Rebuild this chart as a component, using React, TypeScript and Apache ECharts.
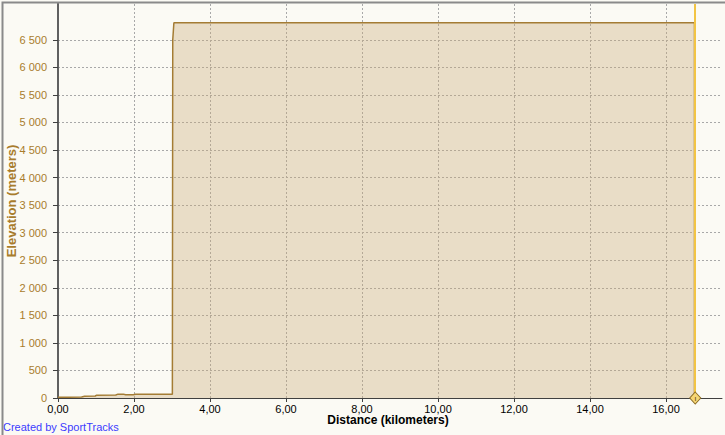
import React, { useEffect, useRef } from "react";
import * as echarts from "echarts";

const distanceKm = [0, 0.3, 0.62, 0.7, 0.98, 1.02, 1.52, 1.58, 1.72, 1.78, 1.98, 2.04, 2.6, 2.96, 3.01, 3.02, 3.05, 16.75, 16.75];
const elevationM = [15, 15, 18, 32, 36, 52, 54, 70, 70, 58, 60, 66, 68, 68, 70, 6500, 6810, 6810, 0];
const markerKm = 16.77;
const xTicks = [0, 2, 4, 6, 8, 10, 12, 14, 16];
const yTicks = [0, 500, 1000, 1500, 2000, 2500, 3000, 3500, 4000, 4500, 5000, 5500, 6000, 6500];
const xMin = -0.105;
const xMax = 17.474;
const yMax = 7150;

const FONT = "Liberation Sans, Arial, sans-serif";

export default function App() {
  const ref = useRef<HTMLDivElement>(null);
  useEffect(() => {
    if (!ref.current) return;
    const chart = echarts.init(ref.current, null, { renderer: "svg" });
    const data = distanceKm.map((d, i) => [d, elevationM[i]]);
    chart.setOption({
      animation: false,
      backgroundColor: "#fbfaf4",
      grid: { left: 54, right: 3, top: 4, bottom: 37, containLabel: false, outerBoundsMode: "none" },
      xAxis: {
        type: "value",
        min: xMin,
        max: xMax,
        name: "Distance (kilometers)",
        nameLocation: "middle",
        nameGap: 16,
        nameMoveOverlap: false,
        nameTextStyle: { color: "#000", fontWeight: "bold", fontSize: 12, fontFamily: FONT },
        axisLine: { show: true, onZero: false, lineStyle: { color: "#404040", width: 1 } },
        axisTick: { show: true, length: 4, customValues: xTicks, lineStyle: { color: "#404040" } },
        axisLabel: {
          show: true,
          color: "#000",
          fontSize: 11,
          fontFamily: FONT,
          margin: 5,
          customValues: xTicks,
          formatter: (v: number) => v.toFixed(2).replace(".", ","),
        },
        splitLine: {
          show: true,
          lineStyle: { color: "#a8a8a8", type: [2, 2], width: 1 },
        },
      },
      yAxis: {
        type: "value",
        min: 0,
        max: yMax,
        name: "Elevation (meters)",
        nameLocation: "middle",
        nameGap: 36,
        nameRotate: 90,
        nameMoveOverlap: false,
        nameTextStyle: { color: "#a87c2c", fontWeight: "bold", fontSize: 13, fontFamily: FONT },
        axisLine: { show: true, lineStyle: { color: "#606060", width: 2 } },
        axisTick: { show: true, length: 5, customValues: yTicks, lineStyle: { color: "#404040" } },
        axisLabel: {
          color: "#a87c2c",
          fontSize: 11,
          fontFamily: FONT,
          margin: 7,
          customValues: yTicks,
          formatter: (v: number) => String(Math.round(v)).replace(/\B(?=(\d{3})+(?!\d))/g, " "),
        },
        splitLine: {
          show: true,
          showMinLine: false,
          lineStyle: { color: "#a8a8a8", type: [2, 2], width: 1 },
        },
      },
      series: [
        {
          type: "line",
          data,
          symbol: "none",
          lineStyle: { color: "#a47c34", width: 1.5 },
          areaStyle: { color: "rgba(203,170,122,0.52)", origin: "start" },
          markLine: {
            silent: true,
            symbol: "none",
            label: { show: false },
            lineStyle: { color: "#f2c444", width: 2, type: "solid" },
            data: [{ xAxis: markerKm }],
          },
          markPoint: {
            silent: true,
            symbol: "diamond",
            symbolSize: [11, 12],
            itemStyle: { color: "#f6d675", borderColor: "#8a6a20", borderWidth: 1 },
            label: { show: true, formatter: "ı", color: "#5a4010", fontSize: 8, fontFamily: FONT },
            data: [{ coord: [markerKm, 0] }],
          },
        },
      ],
      graphic: [
        {
          type: "text",
          left: 3,
          top: 421,
          style: { text: "Created by SportTracks", fill: "#3c3cff", font: `11px ${FONT}` },
        },
        {
          type: "rect",
          left: 0,
          top: 0,
          shape: { x: 0, y: 0, width: 724, height: 434 },
          style: { fill: "none", stroke: "#8a8a8a", lineWidth: 2 },
          silent: true,
        },
      ],
    });
    return () => chart.dispose();
  }, []);
  return <div ref={ref} style={{ position: "fixed", left: 0, top: 0, width: 725, height: 435 }} />;
}
